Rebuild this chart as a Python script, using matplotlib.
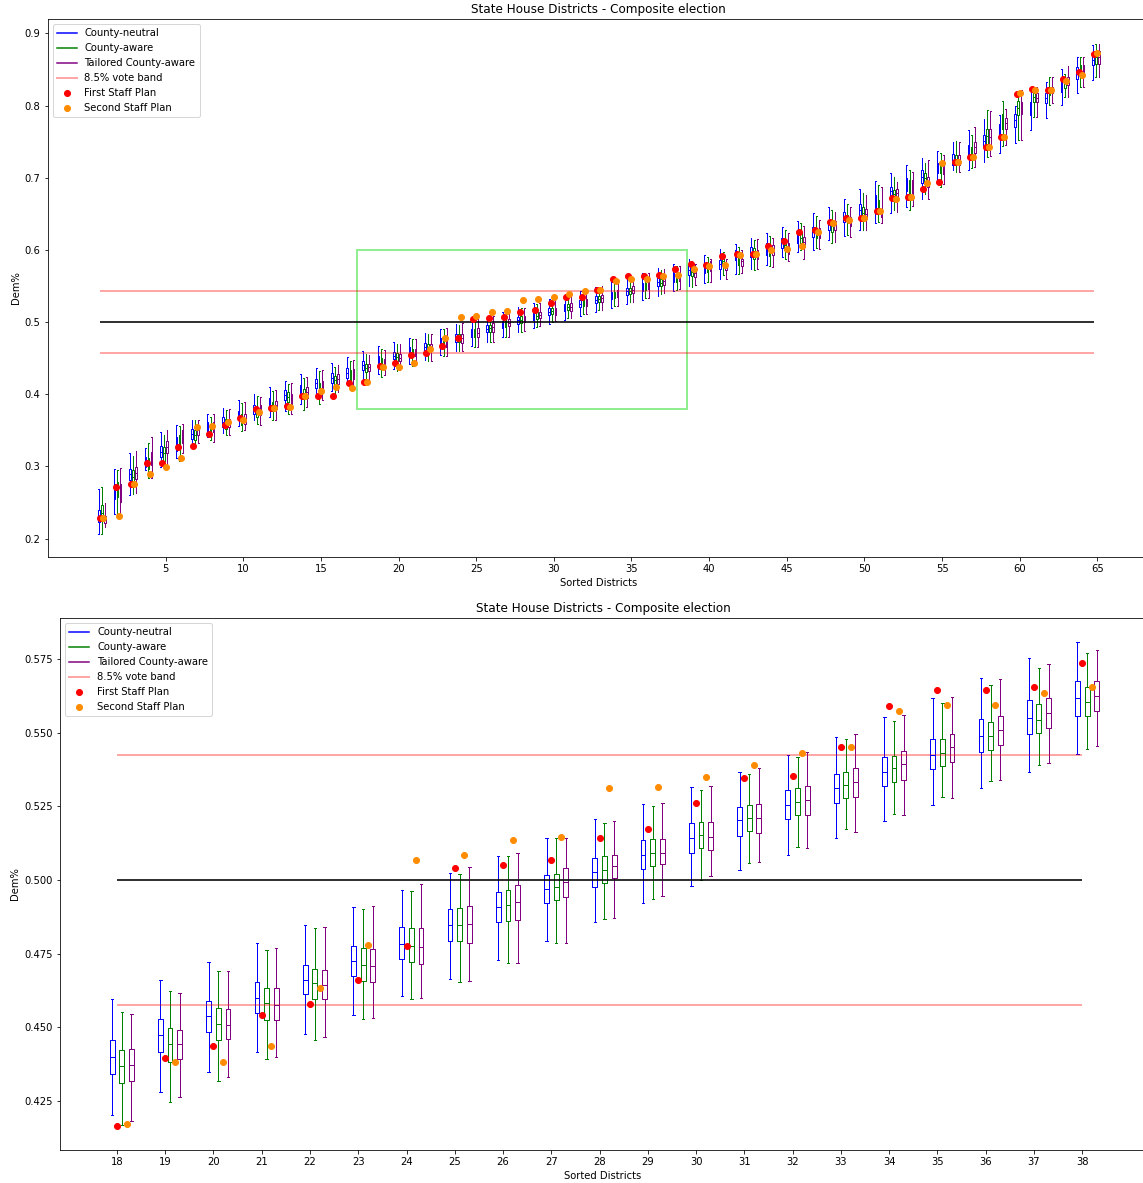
import matplotlib
matplotlib.use("Agg")
import matplotlib.pyplot as plt
from matplotlib.lines import Line2D
from matplotlib.patches import Rectangle
import numpy as np

# districts sorted by Dem share
districts = list(range(1, 66))

# County-neutral ensemble: whisker low, q1, median, q3, whisker high
cn_lo = [0.207, 0.234, 0.261, 0.295, 0.299, 0.312, 0.331, 0.341, 0.346, 0.356, 0.364, 0.368, 0.377, 0.386, 0.398, 0.405, 0.413,
         0.4203, 0.4280, 0.4349, 0.4416, 0.4479, 0.4542, 0.4606, 0.4664, 0.4728, 0.4792, 0.4858, 0.4921, 0.4979, 0.5033, 0.5085, 0.5143, 0.5199, 0.5256, 0.5313, 0.5368, 0.5428,
         0.550, 0.554, 0.560, 0.567, 0.574, 0.579, 0.590, 0.597, 0.600, 0.614, 0.619, 0.628, 0.638, 0.651, 0.660, 0.671, 0.691, 0.711, 0.711, 0.722, 0.735, 0.748, 0.766, 0.783, 0.801, 0.817, 0.836]
cn_q1 = [0.223, 0.255, 0.281, 0.299, 0.313, 0.322, 0.338, 0.348, 0.355, 0.364, 0.373, 0.382, 0.392, 0.400, 0.409, 0.416, 0.423,
         0.4343, 0.4416, 0.4486, 0.4549, 0.4612, 0.4673, 0.4731, 0.4792, 0.4858, 0.4921, 0.4978, 0.5036, 0.5093, 0.5149, 0.5206, 0.5262, 0.5318, 0.5376, 0.5435, 0.5494, 0.5558,
         0.565, 0.568, 0.574, 0.586, 0.590, 0.593, 0.602, 0.609, 0.618, 0.627, 0.639, 0.646, 0.657, 0.676, 0.681, 0.693, 0.706, 0.717, 0.727, 0.743, 0.759, 0.771, 0.787, 0.803, 0.819, 0.837, 0.856]
cn_med = [0.232, 0.267, 0.289, 0.306, 0.320, 0.332, 0.345, 0.355, 0.362, 0.371, 0.379, 0.389, 0.399, 0.407, 0.415, 0.423, 0.430,
          0.4401, 0.4473, 0.4537, 0.4601, 0.4661, 0.4724, 0.4784, 0.4846, 0.4910, 0.4971, 0.5027, 0.5084, 0.5143, 0.5202, 0.5256, 0.5313, 0.5366, 0.5425, 0.5488, 0.5551, 0.5618,
          0.572, 0.575, 0.580, 0.593, 0.597, 0.601, 0.609, 0.618, 0.625, 0.636, 0.646, 0.655, 0.667, 0.682, 0.690, 0.701, 0.714, 0.725, 0.736, 0.751, 0.767, 0.780, 0.796, 0.810, 0.827, 0.845, 0.863]
cn_q3 = [0.239, 0.276, 0.297, 0.313, 0.328, 0.341, 0.352, 0.362, 0.368, 0.377, 0.385, 0.395, 0.406, 0.413, 0.421, 0.429, 0.437,
         0.4458, 0.4529, 0.4590, 0.4655, 0.4713, 0.4777, 0.4840, 0.4901, 0.4959, 0.5016, 0.5076, 0.5136, 0.5192, 0.5248, 0.5304, 0.5361, 0.5418, 0.5478, 0.5545, 0.5610, 0.5676,
         0.579, 0.581, 0.586, 0.600, 0.604, 0.609, 0.617, 0.627, 0.632, 0.642, 0.653, 0.664, 0.676, 0.687, 0.699, 0.711, 0.721, 0.733, 0.745, 0.759, 0.774, 0.789, 0.805, 0.817, 0.834, 0.853, 0.870]
cn_hi = [0.269, 0.297, 0.318, 0.325, 0.348, 0.357, 0.365, 0.373, 0.381, 0.392, 0.401, 0.410, 0.419, 0.428, 0.436, 0.444, 0.451,
         0.4595, 0.4662, 0.4721, 0.4785, 0.4848, 0.4909, 0.4967, 0.5023, 0.5082, 0.5143, 0.5206, 0.5259, 0.5315, 0.5367, 0.5425, 0.5485, 0.5553, 0.5618, 0.5686, 0.5753, 0.5807,
         0.587, 0.593, 0.601, 0.608, 0.616, 0.624, 0.632, 0.640, 0.651, 0.660, 0.671, 0.684, 0.696, 0.707, 0.717, 0.727, 0.737, 0.750, 0.766, 0.781, 0.787, 0.800, 0.824, 0.833, 0.851, 0.868, 0.884]

# County-aware ensemble
ca_lo = [0.207, 0.233, 0.262, 0.284, 0.297, 0.308, 0.325, 0.336, 0.343, 0.349, 0.359, 0.364, 0.373, 0.378, 0.387, 0.400, 0.410,
         0.4168, 0.4246, 0.4319, 0.4392, 0.4458, 0.4529, 0.4595, 0.4655, 0.4719, 0.4788, 0.4867, 0.4937, 0.5000, 0.5057, 0.5113, 0.5172, 0.5225, 0.5282, 0.5335, 0.5391, 0.5445,
         0.549, 0.556, 0.565, 0.566, 0.572, 0.578, 0.587, 0.600, 0.602, 0.610, 0.621, 0.627, 0.639, 0.655, 0.655, 0.678, 0.687, 0.708, 0.713, 0.729, 0.744, 0.752, 0.784, 0.801, 0.812, 0.826, 0.839]
ca_q1 = [0.225, 0.258, 0.276, 0.297, 0.308, 0.325, 0.336, 0.345, 0.352, 0.358, 0.368, 0.377, 0.389, 0.393, 0.403, 0.412, 0.419,
         0.4311, 0.4383, 0.4456, 0.4525, 0.4595, 0.4658, 0.4721, 0.4792, 0.4861, 0.4931, 0.4989, 0.5046, 0.5107, 0.5165, 0.5222, 0.5279, 0.5333, 0.5388, 0.5441, 0.5498, 0.5555,
         0.564, 0.570, 0.579, 0.579, 0.588, 0.591, 0.600, 0.609, 0.616, 0.625, 0.637, 0.644, 0.653, 0.672, 0.678, 0.692, 0.706, 0.720, 0.727, 0.747, 0.767, 0.787, 0.805, 0.814, 0.825, 0.844, 0.858]
ca_med = [0.235, 0.269, 0.285, 0.304, 0.318, 0.334, 0.343, 0.352, 0.359, 0.365, 0.375, 0.383, 0.396, 0.400, 0.410, 0.420, 0.426,
          0.4368, 0.4442, 0.4512, 0.4582, 0.4649, 0.4712, 0.4777, 0.4846, 0.4916, 0.4978, 0.5034, 0.5090, 0.5153, 0.5210, 0.5265, 0.5322, 0.5379, 0.5431, 0.5488, 0.5544, 0.5604,
          0.570, 0.577, 0.585, 0.586, 0.595, 0.598, 0.607, 0.617, 0.623, 0.633, 0.642, 0.651, 0.661, 0.678, 0.687, 0.699, 0.714, 0.725, 0.734, 0.758, 0.777, 0.796, 0.812, 0.820, 0.831, 0.850, 0.867]
ca_q3 = [0.246, 0.278, 0.295, 0.311, 0.327, 0.343, 0.350, 0.359, 0.366, 0.372, 0.381, 0.389, 0.403, 0.407, 0.416, 0.426, 0.433,
         0.4422, 0.4497, 0.4565, 0.4634, 0.4697, 0.4770, 0.4838, 0.4904, 0.4966, 0.5022, 0.5080, 0.5139, 0.5198, 0.5256, 0.5311, 0.5365, 0.5422, 0.5478, 0.5537, 0.5596, 0.5654,
         0.577, 0.582, 0.590, 0.593, 0.602, 0.605, 0.615, 0.625, 0.628, 0.641, 0.648, 0.660, 0.669, 0.683, 0.697, 0.706, 0.722, 0.731, 0.743, 0.768, 0.788, 0.807, 0.818, 0.826, 0.835, 0.856, 0.874]
ca_hi = [0.271, 0.295, 0.315, 0.332, 0.343, 0.356, 0.364, 0.368, 0.378, 0.388, 0.397, 0.405, 0.414, 0.423, 0.432, 0.438, 0.446,
         0.4552, 0.4622, 0.4691, 0.4761, 0.4836, 0.4901, 0.4964, 0.5019, 0.5080, 0.5141, 0.5195, 0.5252, 0.5305, 0.5361, 0.5419, 0.5478, 0.5538, 0.5601, 0.5661, 0.5719, 0.5771,
         0.584, 0.590, 0.597, 0.604, 0.614, 0.619, 0.627, 0.637, 0.647, 0.655, 0.664, 0.679, 0.690, 0.701, 0.711, 0.721, 0.734, 0.751, 0.759, 0.794, 0.807, 0.819, 0.821, 0.839, 0.844, 0.868, 0.886]

# Tailored County-aware ensemble
tc_lo = [0.216, 0.230, 0.263, 0.284, 0.299, 0.318, 0.332, 0.334, 0.343, 0.350, 0.357, 0.364, 0.372, 0.382, 0.392, 0.403, 0.407,
         0.4182, 0.4263, 0.4333, 0.4401, 0.4467, 0.4531, 0.4600, 0.4658, 0.4719, 0.4788, 0.4870, 0.4947, 0.5012, 0.5062, 0.5109, 0.5162, 0.5222, 0.5279, 0.5338, 0.5398, 0.5455,
         0.551, 0.556, 0.560, 0.568, 0.573, 0.577, 0.584, 0.588, 0.601, 0.611, 0.618, 0.627, 0.637, 0.653, 0.661, 0.670, 0.692, 0.708, 0.715, 0.730, 0.745, 0.752, 0.784, 0.803, 0.812, 0.826, 0.839]
tc_q1 = [0.221, 0.251, 0.283, 0.302, 0.318, 0.332, 0.343, 0.348, 0.354, 0.359, 0.371, 0.379, 0.386, 0.395, 0.405, 0.414, 0.421,
         0.4319, 0.4392, 0.4459, 0.4525, 0.4595, 0.4655, 0.4716, 0.4788, 0.4864, 0.4941, 0.5006, 0.5056, 0.5103, 0.5159, 0.5222, 0.5282, 0.5341, 0.5401, 0.5458, 0.5515, 0.5573,
         0.563, 0.571, 0.572, 0.578, 0.587, 0.593, 0.595, 0.604, 0.617, 0.627, 0.633, 0.643, 0.646, 0.674, 0.679, 0.687, 0.705, 0.718, 0.734, 0.745, 0.768, 0.789, 0.805, 0.817, 0.828, 0.845, 0.858]
tc_med = [0.226, 0.262, 0.291, 0.311, 0.327, 0.341, 0.351, 0.355, 0.360, 0.366, 0.378, 0.385, 0.394, 0.403, 0.412, 0.421, 0.428,
          0.4374, 0.4442, 0.4509, 0.4577, 0.4644, 0.4707, 0.4773, 0.4850, 0.4927, 0.4994, 0.5046, 0.5093, 0.5147, 0.5210, 0.5273, 0.5332, 0.5393, 0.5450, 0.5508, 0.5565, 0.5624,
          0.568, 0.577, 0.577, 0.584, 0.594, 0.600, 0.602, 0.611, 0.624, 0.634, 0.639, 0.650, 0.651, 0.679, 0.688, 0.694, 0.714, 0.724, 0.742, 0.757, 0.776, 0.796, 0.811, 0.821, 0.834, 0.851, 0.868]
tc_q3 = [0.232, 0.276, 0.299, 0.320, 0.335, 0.350, 0.358, 0.362, 0.366, 0.373, 0.385, 0.391, 0.401, 0.410, 0.418, 0.428, 0.435,
         0.4426, 0.4492, 0.4561, 0.4632, 0.4695, 0.4765, 0.4838, 0.4913, 0.4983, 0.5040, 0.5086, 0.5139, 0.5198, 0.5258, 0.5318, 0.5379, 0.5438, 0.5497, 0.5558, 0.5617, 0.5676,
         0.574, 0.584, 0.581, 0.588, 0.600, 0.607, 0.609, 0.618, 0.630, 0.640, 0.646, 0.657, 0.657, 0.684, 0.697, 0.701, 0.722, 0.731, 0.750, 0.767, 0.783, 0.805, 0.817, 0.826, 0.840, 0.856, 0.876]
tc_hi = [0.249, 0.298, 0.322, 0.341, 0.351, 0.359, 0.365, 0.372, 0.380, 0.389, 0.396, 0.406, 0.415, 0.424, 0.434, 0.440, 0.447,
         0.4546, 0.4616, 0.4691, 0.4770, 0.4842, 0.4913, 0.4988, 0.5044, 0.5091, 0.5143, 0.5201, 0.5262, 0.5318, 0.5379, 0.5434, 0.5494, 0.5559, 0.5622, 0.5681, 0.5734, 0.5781,
         0.581, 0.587, 0.588, 0.600, 0.615, 0.616, 0.623, 0.633, 0.641, 0.653, 0.660, 0.676, 0.687, 0.694, 0.708, 0.724, 0.731, 0.750, 0.771, 0.793, 0.795, 0.821, 0.826, 0.839, 0.855, 0.868, 0.886]

# enacted plan values
first_plan = [0.228, 0.272, 0.276, 0.305, 0.305, 0.327, 0.328, 0.345, 0.358, 0.367, 0.380, 0.381, 0.384, 0.397, 0.397, 0.397, 0.416,
              0.4166, 0.4395, 0.4436, 0.4542, 0.4578, 0.4662, 0.4777, 0.5040, 0.5050, 0.5067, 0.5143, 0.5172, 0.5263, 0.5345, 0.5353, 0.5451, 0.5591, 0.5645, 0.5645, 0.5654, 0.5738,
              0.580, 0.579, 0.592, 0.595, 0.595, 0.606, 0.613, 0.625, 0.628, 0.639, 0.644, 0.644, 0.654, 0.672, 0.674, 0.684, 0.694, 0.722, 0.729, 0.743, 0.757, 0.816, 0.823, 0.822, 0.837, 0.847, 0.872]
second_plan = [0.228, 0.232, 0.276, 0.289, 0.299, 0.312, 0.355, 0.356, 0.361, 0.365, 0.375, 0.381, 0.383, 0.397, 0.405, 0.410, 0.409,
               0.4173, 0.4382, 0.4382, 0.4436, 0.4632, 0.4778, 0.5067, 0.5086, 0.5137, 0.5147, 0.5311, 0.5315, 0.5351, 0.5391, 0.5431, 0.5451, 0.5574, 0.5594, 0.5594, 0.5634, 0.5654,
               0.574, 0.578, 0.579, 0.593, 0.595, 0.600, 0.601, 0.606, 0.625, 0.638, 0.641, 0.644, 0.654, 0.671, 0.674, 0.693, 0.721, 0.722, 0.729, 0.743, 0.757, 0.817, 0.822, 0.822, 0.834, 0.843, 0.873]

band = 0.085 / 2

ensembles = [
    ('County-neutral', 'blue', (cn_lo, cn_q1, cn_med, cn_q3, cn_hi)),
    ('County-aware', 'green', (ca_lo, ca_q1, ca_med, ca_q3, ca_hi)),
    ('Tailored County-aware', 'purple', (tc_lo, tc_q1, tc_med, tc_q3, tc_hi)),
]


def draw_panel(ax, idx, shift):
    """Boxes for one set of district indices; shift moves everything along x."""
    x = np.array([districts[i] for i in idx], dtype=float) + shift
    for j, (name, color, (lo, q1, med, q3, hi)) in enumerate(ensembles):
        stats = [dict(whislo=lo[i], q1=q1[i], med=med[i], q3=q3[i], whishi=hi[i]) for i in idx]
        props = dict(color=color, linewidth=1)
        ax.bxp(stats, positions=x - 0.1 + 0.2 * j, widths=0.1, showfliers=False,
               boxprops=props, whiskerprops=props, capprops=props, medianprops=props,
               manage_ticks=False)
    ax.hlines(0.5, x[0], x[-1], color='black', alpha=0.8, linewidth=2)
    ax.hlines([0.5 + band, 0.5 - band], x[0], x[-1], color='red', alpha=0.35, linewidth=2)
    ax.scatter(x, [first_plan[i] for i in idx], color='red', zorder=5)
    ax.scatter(x + 0.2, [second_plan[i] for i in idx], color='darkorange', zorder=5)


handles = [
    Line2D([], [], color='blue', label='County-neutral'),
    Line2D([], [], color='green', label='County-aware'),
    Line2D([], [], color='purple', label='Tailored County-aware'),
    Line2D([], [], color='red', alpha=0.35, linewidth=2, label='8.5% vote band'),
    Line2D([], [], marker='o', linestyle='none', color='red', label='First Staff Plan'),
    Line2D([], [], marker='o', linestyle='none', color='darkorange', label='Second Staff Plan'),
]

W, H = 1143, 1183
fig = plt.figure(figsize=(W / 72, H / 72), dpi=72)

# full state view
ax1 = fig.add_axes([47.5 / W, 1 - 557 / H, (1149 - 47.5) / W, (557 - 19) / H])
draw_panel(ax1, list(range(65)), -0.2)
ax1.add_patch(Rectangle((17.33, 0.38), 38.6 - 17.33, 0.22, fill=False,
                        edgecolor='lightgreen', linewidth=2))
ax1.set_xlim(-2.6, 68.32)
ax1.set_ylim(0.1745, 0.92)
ax1.set_xticks(range(5, 66, 5))
ax1.set_yticks(np.arange(0.2, 0.91, 0.1))
ax1.set_xlabel('Sorted Districts')
ax1.set_ylabel('Dem%')
ax1.set_title('State House Districts - Composite election')
ax1.legend(handles=handles, loc='upper left')

# zoom on the competitive districts
ax2 = fig.add_axes([60 / W, 1 - 1150 / H, (1146 - 60) / W, (1150 - 618) / H])
draw_panel(ax2, list(range(17, 38)), 0.0)
ax2.set_xlim(16.82, 39.32)
ax2.set_ylim(0.4084, 0.5889)
ax2.set_xticks(range(18, 39))
ax2.set_yticks([0.425, 0.45, 0.475, 0.5, 0.525, 0.55, 0.575])
ax2.set_yticklabels(['0.425', '0.450', '0.475', '0.500', '0.525', '0.550', '0.575'])
ax2.set_xlabel('Sorted Districts')
ax2.set_ylabel('Dem%')
ax2.set_title('State House Districts - Composite election')
ax2.legend(handles=handles, loc='upper left')

fig.savefig('out.png', dpi=72)
